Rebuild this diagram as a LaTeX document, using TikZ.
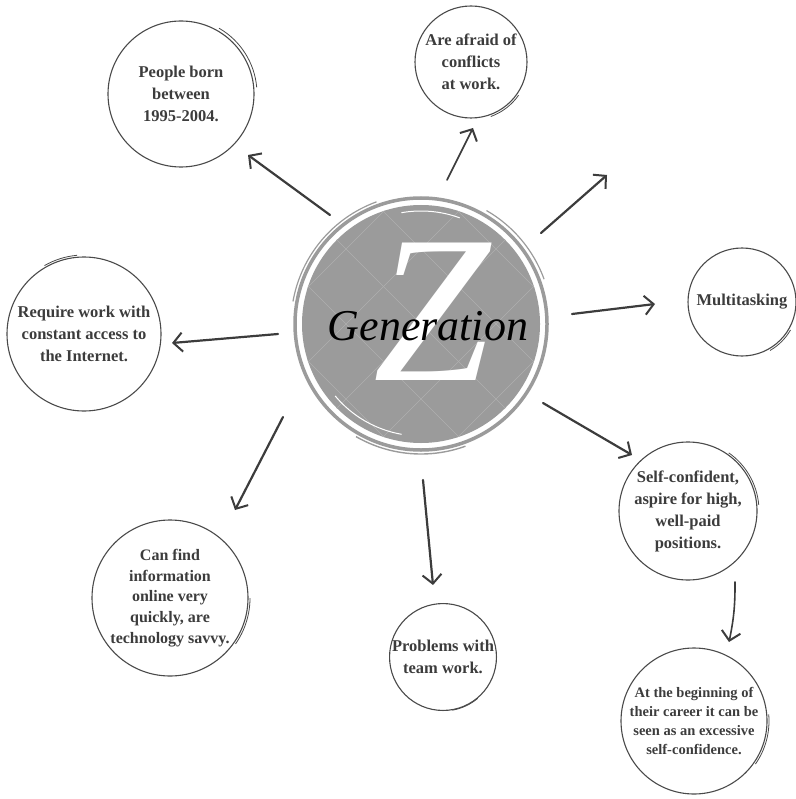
\documentclass[tikz,border=0pt]{standalone}
\usepackage{fontspec}
\setmainfont{Liberation Serif}
\usetikzlibrary{arrows.meta}
\definecolor{ink}{HTML}{3C3C3C}
\definecolor{ring}{HTML}{4A4A4A}
\definecolor{disc}{HTML}{9B9B9B}
\begin{document}
\begin{tikzpicture}[x=1pt,y=-1pt,
  bubble/.style={circle, draw=ring, line width=1.1pt, inner sep=0pt, align=center,
    text=ink, font=\bfseries\fontsize{16.5}{22}\selectfont},
  smalltext/.style={font=\bfseries\fontsize{14.5}{19.3}\selectfont},
  tail/.style={draw=ring, line width=0.8pt},
  arr/.style={draw=ink, line width=2.2pt, line cap=round,
    -{Straight Barb[length=9pt,width=19pt,line width=2pt]}},
]
\useasboundingbox (0,0) rectangle (795,799);

% ---------- central disc ----------
\coordinate (gc) at (421,324);
\fill[disc] (gc) circle[radius=119];
\begin{scope}
  \clip (gc) circle[radius=119];
  \foreach \i in {-4,...,4}{
    \draw[disc!80!white, line width=0.6pt, shift={(gc)}] (\i*75-200,-200) -- ++(400,400);
    \draw[disc!80!white, line width=0.6pt, shift={(gc)}] (\i*75+200,-200) -- ++(-400,400);
  }
\end{scope}
% brush ring
\draw[disc, line width=3.5pt] (gc) circle[radius=126];
\draw[white, line width=1.6pt] (gc.center) ++(200:122) arc[start angle=200, end angle=330, radius=122];
\draw[white, line width=1.2pt] (gc.center) ++(20:121) arc[start angle=20, end angle=160, radius=121];
\draw[disc, line width=1.2pt] (gc.center) ++(190:130) arc[start angle=190, end angle=250, radius=130];
\draw[disc, line width=1.2pt] (gc.center) ++(-60:131) arc[start angle=-60, end angle=-20, radius=131];
\draw[disc, line width=1.4pt] (gc.center) ++(70:130) arc[start angle=70, end angle=120, radius=130];
\draw[white, line width=1pt] (gc.center) ++(100:112) arc[start angle=100, end angle=140, radius=112];
\draw[white, line width=1pt] (gc.center) ++(-100:113) arc[start angle=-100, end angle=-70, radius=113];

\node[text=white, inner sep=0pt, font=\itshape\fontsize{210}{210}\selectfont] (zz) at (432,312) {Z};
\node[anchor=base, inner sep=0pt, text=black, font=\itshape\fontsize{44}{44}\selectfont] (gen) at (428,340) {Generation};

% ---------- satellite circles ----------
\node[bubble, minimum size=146pt] (born) at (181,94) {People born\\between\\1995-2004.};
\node[bubble, minimum size=112pt] (afraid) at (471,62) {Are afraid of\\conflicts\\at work.};
\node[bubble, minimum size=108pt] (multi) at (742,302) {Multitasking};
\node[bubble, minimum size=154pt] (inet) at (84,334) {Require work with\\constant access to\\the Internet.};
\node[bubble, minimum size=138pt] (self) at (688,511) {Self-confident,\\aspire for high,\\well-paid\\positions.};
\node[bubble, smalltext, minimum size=146pt] (begin) at (694,721) {At the beginning of\\their career it can be\\seen as an excessive\\self-confidence.};
\node[bubble, minimum size=104pt] (team) at (443,657) {Problems with\\team work.};
\node[bubble, font=\bfseries\fontsize{16}{20.8}\selectfont, minimum size=156pt] (tech) at (170,598) {Can find\\information\\online very\\quickly, are\\technology savvy.};

% hand-drawn overlapping tails
\draw[tail] (born.center) ++(-60:76) arc[start angle=-60, end angle=-5, radius=76];
\draw[tail] (afraid.center) ++(35:58) arc[start angle=35, end angle=70, radius=58];
\draw[tail] (multi.center) ++(30:56) arc[start angle=30, end angle=60, radius=56];
\draw[tail] (inet.center) ++(-120:79) arc[start angle=-120, end angle=-95, radius=79];
\draw[tail] (self.center) ++(-55:71) arc[start angle=-55, end angle=-5, radius=71];
\draw[tail] (begin.center) ++(-5:75) arc[start angle=-5, end angle=35, radius=75];
\draw[tail] (team.center) ++(50:54) arc[start angle=50, end angle=80, radius=54];
\draw[tail] (tech.center) ++(0:80) arc[start angle=0, end angle=35, radius=80];

% ---------- arrows ----------
\coordinate (t1) at (330,215);  \coordinate (h1) at (248,155);
\coordinate (t2) at (447,180);  \coordinate (h2) at (473,128);
\coordinate (t3) at (541,233);  \coordinate (h3) at (607,175);
\coordinate (t4) at (572,314);  \coordinate (h4) at (655,304);
\coordinate (t5) at (278,334);  \coordinate (h5) at (172,343);
\coordinate (t6) at (543,403);  \coordinate (h6) at (632,455);
\coordinate (t7) at (735,582);  \coordinate (h7) at (729,642);
\coordinate (t8) at (423,480);  \coordinate (h8) at (433,585);
\coordinate (t9) at (283,417);  \coordinate (h9) at (235,510);

\draw[arr] (t1) -- (h1);
\draw[arr, line width=1.6pt] (t2) -- (h2);
\draw[arr] (t3) -- (h3);
\draw[arr] (t4) -- (h4);
\draw[arr] (t5) -- (h5);
\draw[arr] (t6) -- (h6);
\draw[arr, line width=1.6pt] (t7) to[bend left=6] (h7);
\draw[arr] (t8) -- (h8);
\draw[arr] (t9) -- (h9);
\end{tikzpicture}
\end{document}
